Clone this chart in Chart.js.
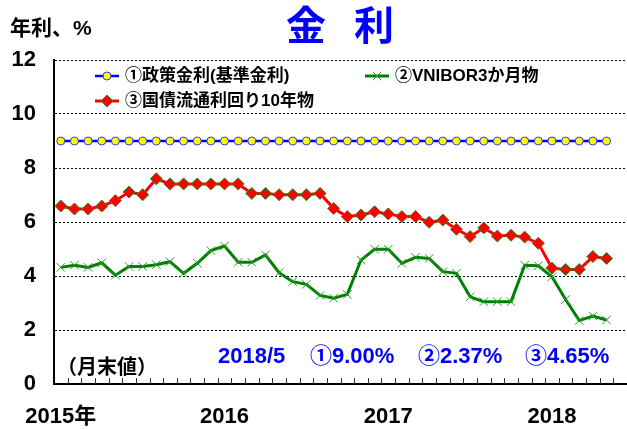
<!DOCTYPE html>
<html>
<head>
<meta charset="utf-8">
<script src="https://cdn.jsdelivr.net/npm/chart.js"></script>
<style>
  html, body { margin: 0; padding: 0; background: #fff; }
  #wrap { width: 627px; height: 429px; }
</style>
</head>
<body>
<div id="wrap"><canvas id="rateChart" width="627" height="429"></canvas></div>
<script>
// monthly, end of month, 2015/1 .. 2018/5
const months = [
  '2015/1','2015/2','2015/3','2015/4','2015/5','2015/6','2015/7','2015/8','2015/9','2015/10','2015/11','2015/12',
  '2016/1','2016/2','2016/3','2016/4','2016/5','2016/6','2016/7','2016/8','2016/9','2016/10','2016/11','2016/12',
  '2017/1','2017/2','2017/3','2017/4','2017/5','2017/6','2017/7','2017/8','2017/9','2017/10','2017/11','2017/12',
  '2018/1','2018/2','2018/3','2018/4','2018/5'
];
const yearLabels = { '2015/1': '2015年', '2016/1': '2016', '2017/1': '2017', '2018/1': '2018' };

const policyRate = [
  9, 9, 9, 9, 9, 9, 9, 9, 9, 9, 9, 9,
  9, 9, 9, 9, 9, 9, 9, 9, 9, 9, 9, 9,
  9, 9, 9, 9, 9, 9, 9, 9, 9, 9, 9, 9,
  9, 9, 9, 9, 9
];
const vnibor3m = [
  4.32, 4.40, 4.32, 4.49, 4.03, 4.35, 4.35, 4.42, 4.53, 4.10, 4.47, 4.94,
  5.11, 4.51, 4.51, 4.78, 4.12, 3.79, 3.69, 3.28, 3.18, 3.32, 4.59, 4.99,
  4.99, 4.47, 4.69, 4.65, 4.16, 4.10, 3.23, 3.05, 3.05, 3.05, 4.40, 4.38,
  3.97, 3.13, 2.35, 2.52, 2.37
];
const bond10y = [
  6.59, 6.48, 6.48, 6.59, 6.79, 7.11, 7.01, 7.60, 7.41, 7.41, 7.41, 7.41,
  7.41, 7.41, 7.06, 7.06, 7.01, 7.01, 7.01, 7.06, 6.50, 6.20, 6.26, 6.38,
  6.30, 6.20, 6.20, 5.99, 6.07, 5.73, 5.46, 5.78, 5.48, 5.51, 5.44, 5.21,
  4.29, 4.24, 4.24, 4.72, 4.65
];
const seriesNames = ['①政策金利(基準金利)', '②VNIBOR3か月物', '③国債流通利回り10年物'];
const yTicks = [0, 2, 4, 6, 8, 10, 12];

const FONT = '"Liberation Sans", "Noto Sans CJK JP", sans-serif';

// one blank slot after the last month keeps the right margin of the original
const labels = months.concat(['']);

// small marker drawer for the hand-placed legend
function drawMarker(ctx, style, x, y, r, fill, stroke, bw) {
  ctx.save();
  ctx.fillStyle = fill;
  ctx.strokeStyle = stroke;
  ctx.lineWidth = bw;
  ctx.beginPath();
  if (style === 'circle') {
    ctx.arc(x, y, r, 0, Math.PI * 2);
    ctx.fill();
    ctx.stroke();
  } else if (style === 'rectRot') {
    ctx.moveTo(x, y - r); ctx.lineTo(x + r, y); ctx.lineTo(x, y + r); ctx.lineTo(x - r, y);
    ctx.closePath();
    ctx.fill();
    ctx.stroke();
  } else if (style === 'crossRot') {
    const d = r * Math.SQRT1_2;
    ctx.moveTo(x - d, y - d); ctx.lineTo(x + d, y + d);
    ctx.moveTo(x - d, y + d); ctx.lineTo(x + d, y - d);
    ctx.stroke();
  }
  ctx.restore();
}

const extras = {
  id: 'extras',
  afterDraw(chart) {
    const ctx = chart.ctx;
    ctx.save();

    // month ticks pointing up from the x axis, on category boundaries
    const xs = chart.scales.x;
    const half = (xs.getPixelForValue(1) - xs.getPixelForValue(0)) / 2;
    ctx.strokeStyle = '#333';
    ctx.lineWidth = 1;
    ctx.beginPath();
    for (let i = 1; i <= labels.length; i++) {
      const px = Math.round(xs.getPixelForValue(i) - half) + 0.5;
      ctx.moveTo(px, xs.top);
      ctx.lineTo(px, xs.top - 6);
    }
    ctx.stroke();

    ctx.textBaseline = 'middle';

    // title
    ctx.fillStyle = '#0000ff';
    ctx.font = 'bold 40px "Noto Sans CJK JP", sans-serif';
    ctx.textAlign = 'center';
    ctx.fillText('金', 306, 25);
    ctx.fillText('利', 374, 25);

    // unit
    ctx.fillStyle = '#000';
    ctx.textAlign = 'left';
    ctx.font = 'bold 21px ' + FONT;
    ctx.fillText('年利、%', 10, 29);

    // legend
    const spots = [[95, 76], [365, 76], [95, 101]];
    ctx.font = 'bold 17px ' + FONT;
    chart.data.datasets.forEach((ds, i) => {
      const [lx, ly] = spots[i];
      ctx.save();
      ctx.strokeStyle = ds.borderColor;
      ctx.lineWidth = ds.borderWidth;
      ctx.beginPath();
      ctx.moveTo(lx, ly);
      ctx.lineTo(lx + 24, ly);
      ctx.stroke();
      ctx.restore();
      drawMarker(ctx, ds.pointStyle, lx + 12, ly, ds.pointRadius,
        ds.pointBackgroundColor, ds.pointBorderColor, ds.pointBorderWidth);
      ctx.fillStyle = '#000';
      ctx.fillText(ds.label, lx + 30, ly);
    });

    // note
    ctx.font = 'bold 20px ' + FONT;
    ctx.fillText('（月末値）', 57, 368);

    // latest values
    const last = months.length - 1;
    ctx.fillStyle = '#0000ff';
    ctx.font = 'bold 22px ' + FONT;
    ctx.fillText(months[last], 218, 357);
    ctx.fillText('①' + policyRate[last].toFixed(2) + '%', 310, 357);
    ctx.fillText('②' + vnibor3m[last].toFixed(2) + '%', 418, 357);
    ctx.fillText('③' + bond10y[last].toFixed(2) + '%', 525, 357);
    ctx.restore();
  }
};

const ctx = document.getElementById('rateChart').getContext('2d');
new Chart(ctx, {
  type: 'line',
  data: {
    labels: labels,
    datasets: [
      {
        label: seriesNames[0],
        data: policyRate,
        borderColor: '#0000ff',
        borderWidth: 2.5,
        pointStyle: 'circle',
        pointRadius: 4,
        pointBackgroundColor: '#ffff00',
        pointBorderColor: '#3333ff',
        pointBorderWidth: 1,
        tension: 0
      },
      {
        label: seriesNames[1],
        data: vnibor3m,
        borderColor: '#008000',
        borderWidth: 3,
        pointStyle: 'crossRot',
        pointRadius: 6,
        pointBackgroundColor: '#2f9a2f',
        pointBorderColor: '#2f9a2f',
        pointBorderWidth: 1,
        tension: 0
      },
      {
        label: seriesNames[2],
        data: bond10y,
        borderColor: '#ff0000',
        borderWidth: 3,
        pointStyle: 'rectRot',
        pointRadius: 6,
        pointBackgroundColor: '#ff0000',
        pointBorderColor: '#228b22',
        pointBorderWidth: 1,
        tension: 0
      }
    ]
  },
  options: {
    responsive: false,
    animation: false,
    layout: { autoPadding: false, padding: { top: 60, right: 0, left: 0, bottom: 0 } },
    plugins: {
      legend: { display: false },
      title: { display: false },
      tooltip: { enabled: false }
    },
    scales: {
      x: {
        type: 'category',
        offset: true,
        grid: {
          offset: true,
          drawOnChartArea: false,
          drawTicks: true,
          tickLength: 20,
          tickColor: 'rgba(0,0,0,0)'
        },
        border: { display: true, color: '#000', width: 2 },
        ticks: {
          autoSkip: false,
          maxRotation: 0,
          padding: 0,
          color: '#000',
          font: { family: FONT, size: 22, weight: 'bold' },
          callback: function(value) {
            const m = this.getLabelForValue(value);
            return yearLabels[m] || '';
          }
        },
        afterFit: scale => {
          scale.height = 45;
          scale.paddingRight = 0;
        }
      },
      y: {
        min: 0,
        max: 12,
        afterBuildTicks: scale => { scale.ticks = yTicks.map(v => ({ value: v })); },
        grid: {
          color: '#000',
          lineWidth: 1,
          drawTicks: false
        },
        border: { display: true, color: '#000', width: 2, dash: [2, 2] },
        ticks: {
          padding: 18,
          color: '#000',
          font: { family: FONT, size: 22, weight: 'bold' }
        },
        afterFit: scale => { scale.width = 54; }
      }
    }
  },
  plugins: [extras]
});
</script>
</body>
</html>
